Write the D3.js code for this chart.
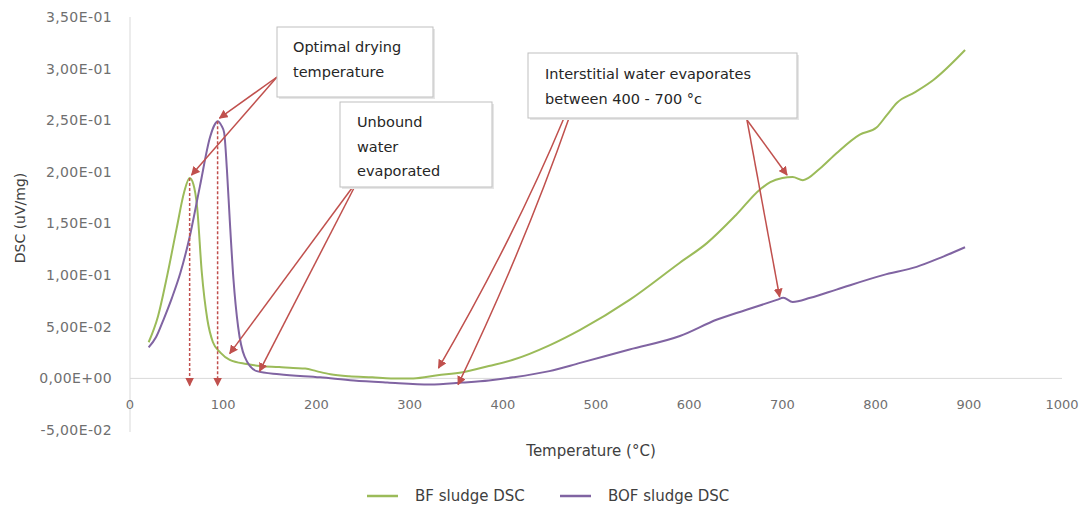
<!DOCTYPE html>
<html>
<head>
<meta charset="utf-8">
<script src="https://cdn.jsdelivr.net/npm/d3@7"></script>
<style>
  body { margin: 0; background: #fff; }
  svg text { font-family: "DejaVu Sans", sans-serif; }
</style>
</head>
<body>
<div id="chart"></div>
<script>
// BF sludge DSC (temperature in °C, DSC in uV/mg)
let bfTemp = [20, 30, 40, 50, 58, 64, 68, 72, 77, 83, 89, 97, 107, 125, 140, 160, 175, 188, 200, 215, 235, 260, 280, 304, 330, 357, 385, 411, 450, 483, 536, 590, 619, 650, 676, 687, 700, 711, 722, 740, 758, 783, 801, 812, 823, 842, 862, 896];
let bfDsc = [0.035, 0.060, 0.100, 0.145, 0.180, 0.194, 0.188, 0.166, 0.103, 0.057, 0.035, 0.025, 0.018, 0.014, 0.012, 0.011, 0.010, 0.0095, 0.007, 0.004, 0.002, 0.001, 0.000, 0.000, 0.003, 0.006, 0.012, 0.018, 0.032, 0.047, 0.076, 0.112, 0.131, 0.158, 0.183, 0.190, 0.194, 0.195, 0.192, 0.203, 0.218, 0.236, 0.243, 0.255, 0.267, 0.277, 0.289, 0.318];

// BOF sludge DSC
let bofTemp = [20, 28, 36, 45, 54, 64, 75, 86, 91, 94, 98, 101, 104, 107, 111, 116, 123, 136, 160, 204, 240, 276, 322, 357, 385, 411, 450, 483, 536, 590, 630, 660, 694, 701, 711, 730, 758, 808, 844, 870, 896];
let bofDsc = [0.030, 0.040, 0.057, 0.078, 0.102, 0.137, 0.186, 0.234, 0.246, 0.249, 0.245, 0.238, 0.202, 0.154, 0.096, 0.050, 0.021, 0.007, 0.004, 0.001, -0.002, -0.004, -0.006, -0.004, -0.002, 0.001, 0.007, 0.015, 0.028, 0.041, 0.057, 0.066, 0.076, 0.078, 0.074, 0.078, 0.086, 0.100, 0.108, 0.117, 0.127];

let xTicks = [0, 100, 200, 300, 400, 500, 600, 700, 800, 900, 1000];
let yTicks = [-0.05, 0, 0.05, 0.10, 0.15, 0.20, 0.25, 0.30, 0.35];
let yTickLabels = ["-5,00E-02", "0,00E+00", "5,00E-02", "1,00E-01", "1,50E-01", "2,00E-01", "2,50E-01", "3,00E-01", "3,50E-01"];

let seriesNames = ["BF sludge DSC", "BOF sludge DSC"];
let seriesColors = ["#9bbb59", "#8064a2"];

let width = 1086, height = 508;
let x = d3.scaleLinear().domain([0, 1000]).range([130, 1062]);
let y = d3.scaleLinear().domain([-0.05, 0.35]).range([430, 17]);

let svg = d3.select("#chart").append("svg")
    .attr("width", width)
    .attr("height", height);

let defs = svg.append("defs");
defs.append("marker")
    .attr("id", "arrow")
    .attr("viewBox", "0 0 10 10")
    .attr("refX", 9).attr("refY", 5)
    .attr("markerWidth", 9).attr("markerHeight", 9)
    .attr("markerUnits", "userSpaceOnUse")
    .attr("orient", "auto")
    .append("path")
    .attr("d", "M0,0 L10,5 L0,10 z")
    .attr("fill", "#c0504d");

// axes
let axisColor = "#d9d9d9";
svg.append("line")
    .attr("x1", x(0)).attr("x2", x(0))
    .attr("y1", y(0.35)).attr("y2", y(-0.05) + 2)
    .attr("stroke", axisColor);
svg.append("line")
    .attr("x1", x(0)).attr("x2", x(1000))
    .attr("y1", y(0)).attr("y2", y(0))
    .attr("stroke", axisColor);

svg.selectAll(".ylab")
    .data(yTicks)
    .enter()
    .append("text")
    .attr("x", 112)
    .attr("y", function (d) { return y(d); })
    .attr("dy", "0.35em")
    .attr("text-anchor", "end")
    .attr("font-size", "14px")
    .attr("letter-spacing", "0.4px")
    .attr("fill", "#6f6f6f")
    .text(function (d, i) { return yTickLabels[i]; });

svg.selectAll(".xlab")
    .data(xTicks)
    .enter()
    .append("text")
    .attr("x", function (d) { return x(d); })
    .attr("y", 404)
    .attr("dy", "0.35em")
    .attr("text-anchor", "middle")
    .attr("font-size", "13px")
    .attr("fill", "#6f6f6f")
    .text(function (d) { return d; });

svg.append("text")
    .attr("x", 591).attr("y", 451)
    .attr("dy", "0.35em")
    .attr("text-anchor", "middle")
    .attr("font-size", "15px")
    .attr("fill", "#404040")
    .text("Temperature (°C)");

svg.append("text")
    .attr("transform", "translate(20,218) rotate(-90)")
    .attr("dy", "0.35em")
    .attr("text-anchor", "middle")
    .attr("font-size", "14px")
    .attr("fill", "#404040")
    .text("DSC (uV/mg)");

// series
let line = d3.line()
    .x(function (d) { return x(d[0]); })
    .y(function (d) { return y(d[1]); })
    .curve(d3.curveMonotoneX);

let series = [
    d3.zip(bfTemp, bfDsc),
    d3.zip(bofTemp, bofDsc)
];

svg.selectAll(".series")
    .data(series)
    .enter()
    .append("path")
    .attr("d", line)
    .attr("fill", "none")
    .attr("stroke", function (d, i) { return seriesColors[i]; })
    .attr("stroke-width", 2);

// dashed drops from the two peaks
let drops = [[64, 0.194], [94, 0.249]];
svg.selectAll(".drop")
    .data(drops)
    .enter()
    .append("line")
    .attr("x1", function (d) { return x(d[0]); })
    .attr("x2", function (d) { return x(d[0]); })
    .attr("y1", function (d) { return y(d[1]); })
    .attr("y2", y(-0.007))
    .attr("stroke", "#c0504d")
    .attr("stroke-width", 1.5)
    .attr("stroke-dasharray", "3,2")
    .attr("marker-end", "url(#arrow)");

// annotation boxes
let boxes = [
    { x: 277, y: 27, w: 156, h: 70, lines: ["Optimal drying", "temperature"], tx: 293, ty: 47 },
    { x: 340, y: 102, w: 152, h: 85, lines: ["Unbound", "water", "evaporated"], tx: 357, ty: 122 },
    { x: 528, y: 53, w: 269, h: 65, lines: ["Interstitial water evaporates", "between 400 - 700 °c"], tx: 545, ty: 74 }
];

// arrows: start pixel on a box, end at a data point
let arrows = [
    { sx: 277, sy: 77, t: 96, v: 0.252, bend: 0 },
    { sx: 277, sy: 77, t: 66, v: 0.197, bend: 0 },
    { sx: 352, sy: 188, t: 107, v: 0.024, bend: 0 },
    { sx: 354, sy: 188, t: 139, v: 0.007, bend: 0 },
    { sx: 564, sy: 118, t: 331, v: 0.010, bend: 12 },
    { sx: 569, sy: 118, t: 352, v: -0.006, bend: 10 },
    { sx: 747, sy: 120, t: 705, v: 0.197, bend: 0 },
    { sx: 747, sy: 120, t: 697, v: 0.079, bend: 0 }
];

svg.selectAll(".arrow")
    .data(arrows)
    .enter()
    .append("path")
    .attr("d", function (d) {
        let ex = x(d.t), ey = y(d.v);
        let mx = (d.sx + ex) / 2 + d.bend, my = (d.sy + ey) / 2 - d.bend * 0.3;
        return "M" + d.sx + "," + d.sy + " Q" + mx + "," + my + " " + ex + "," + ey;
    })
    .attr("fill", "none")
    .attr("stroke", "#c0504d")
    .attr("stroke-width", 1.5)
    .attr("marker-end", "url(#arrow)");

let box = svg.selectAll(".box")
    .data(boxes)
    .enter()
    .append("g");

box.append("rect")
    .attr("x", function (d) { return d.x + 2; })
    .attr("y", function (d) { return d.y + 2; })
    .attr("width", function (d) { return d.w; })
    .attr("height", function (d) { return d.h; })
    .attr("fill", "#e6e6e6");

box.append("rect")
    .attr("x", function (d) { return d.x; })
    .attr("y", function (d) { return d.y; })
    .attr("width", function (d) { return d.w; })
    .attr("height", function (d) { return d.h; })
    .attr("fill", "#fff")
    .attr("stroke", "#bfbfbf");

box.each(function (d) {
    let g = d3.select(this);
    d.lines.forEach(function (s, i) {
        g.append("text")
            .attr("x", d.tx)
            .attr("y", d.ty + i * 24.5)
            .attr("dy", "0.35em")
            .attr("font-size", "14.5px")
            .attr("fill", "#262626")
            .text(s);
    });
});

// legend
let legendX = [367, 560];
let legend = svg.selectAll(".legend")
    .data(seriesNames)
    .enter()
    .append("g")
    .attr("transform", function (d, i) { return "translate(" + legendX[i] + ",496)"; });

legend.append("line")
    .attr("x1", 0).attr("x2", 31)
    .attr("stroke", function (d, i) { return seriesColors[i]; })
    .attr("stroke-width", 2.5);

legend.append("text")
    .attr("x", 48)
    .attr("dy", "0.35em")
    .attr("font-size", "15px")
    .attr("fill", "#404040")
    .text(function (d) { return d; });
</script>
</body>
</html>
